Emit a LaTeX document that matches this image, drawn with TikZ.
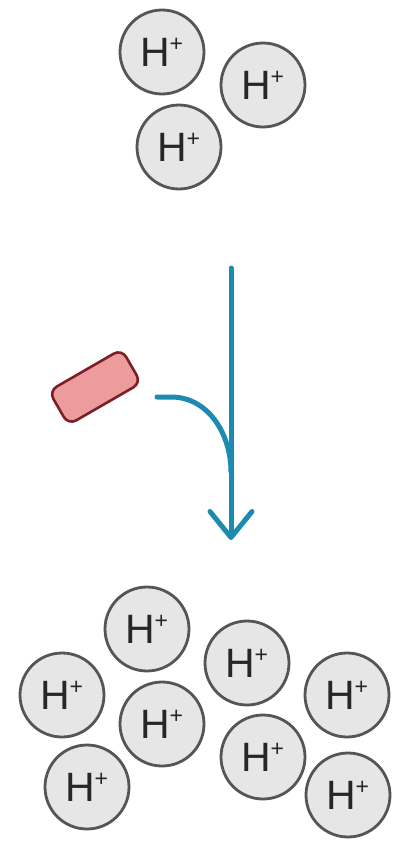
\documentclass[tikz,border=0pt]{standalone}
\usepackage{fontspec}
\setmainfont{Liberation Sans}
\usetikzlibrary{arrows.meta}

\definecolor{ionfill}{HTML}{E6E6E6}
\definecolor{iondraw}{HTML}{555555}
\definecolor{flowblue}{HTML}{1C8BB0}
\definecolor{pillfill}{HTML}{EC9C9C}
\definecolor{pilldraw}{HTML}{7D2025}

\newcommand{\hion}{H\kern-1pt\raisebox{15pt}{\fontsize{23}{23}\selectfont+}}

\begin{document}
\begin{tikzpicture}[x=1pt, y=-1pt,
  ion/.style={circle, draw=iondraw, fill=ionfill, line width=2.8pt,
    minimum size=84pt, inner sep=0pt, text=black!85,
    font=\fontsize{41}{41}\selectfont},
  flow/.style={draw=flowblue, line width=5pt, line cap=round},
  pill/.style={draw=pilldraw, fill=pillfill, line width=2.6pt,
    rounded corners=9pt, minimum width=84pt, minimum height=39pt}]

\useasboundingbox (0,0) rectangle (398,843);

% before
\node[ion] (top1) at (162,52) {\hion};
\node[ion] (top2) at (263,85) {\hion};
\node[ion] (top3) at (179,147) {\hion};

% reaction arrow with the added substance
\node[pill, rotate=30] (pill) at (95,387) {};
\coordinate (arrtop) at (231,268);
\coordinate (arrtip) at (231,540);
\coordinate (branch) at (157,397);
\coordinate (merge) at (231,472);

\draw[flow, -{Straight Barb[length=26pt, width=42pt, round]}] (arrtop) -- (arrtip);
\draw[flow] (branch) -- ++(14,0) to[out=0, in=90] (merge);

% after
\node[ion] (bot1) at (147,629) {\hion};
\node[ion] (bot2) at (247,663) {\hion};
\node[ion] (bot3) at (62,695) {\hion};
\node[ion] (bot4) at (162,724) {\hion};
\node[ion] (bot5) at (347,695) {\hion};
\node[ion] (bot6) at (263,757) {\hion};
\node[ion] (bot7) at (87,787) {\hion};
\node[ion] (bot8) at (348,795) {\hion};

\end{tikzpicture}
\end{document}
